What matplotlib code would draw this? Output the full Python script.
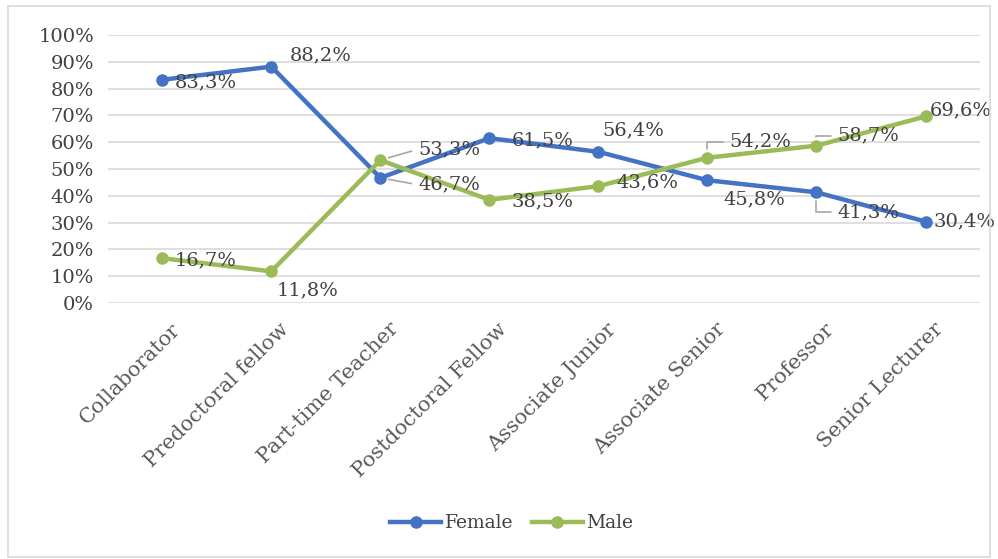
import matplotlib.pyplot as plt
from matplotlib.patches import Rectangle
from matplotlib.ticker import PercentFormatter
from matplotlib.transforms import ScaledTranslation

categories = ['Collaborator', 'Predoctoral fellow', 'Part-time Teacher', 'Postdoctoral Fellow',
              'Associate Junior', 'Associate Senior', 'Professor', 'Senior Lecturer']
female = [83.3, 88.2, 46.7, 61.5, 56.4, 45.8, 41.3, 30.4]
male = [16.7, 11.8, 53.3, 38.5, 43.6, 54.2, 58.7, 69.6]

# label offsets in pixels (dx, dy) and leader line kind
female_off = [(12, -3), (18, 11), (38, -7), (22, -2), (4, 21), (16, -19), (21, -20), (8, 0)]
female_lead = [None, None, 'straight', None, None, None, 'angle', None]
male_off = [(12, -2), (5, -19), (38, 11), (22, -2), (18, 4), (22, 16), (21, 10), (4, 6)]
male_lead = [None, None, 'straight', None, None, 'angle', 'angle', None]

BLUE = '#4472C4'
GREEN = '#9BBB59'
TXT = '#404040'
FONT = 'DejaVu Serif'

plt.rcParams['font.family'] = FONT

fig = plt.figure(figsize=(9.98, 5.59), dpi=100)
ax = fig.add_axes([0.108, 0.458, 0.874, 0.4794])

x = list(range(len(categories)))
ax.plot(x, female, color=BLUE, lw=3.2, marker='o', ms=8, label='Female', zorder=3)
ax.plot(x, male, color=GREEN, lw=3.2, marker='o', ms=8, label='Male', zorder=3)

ax.set_xlim(-0.5, len(categories) - 0.5)
ax.set_ylim(0, 100)
ax.set_yticks(range(0, 101, 10))
ax.yaxis.set_major_formatter(PercentFormatter(decimals=0))
ax.grid(axis='y', color='#D9D9D9', lw=1.2)
ax.set_axisbelow(True)
for s in ax.spines.values():
  s.set_visible(False)
ax.tick_params(length=0, labelsize=14, colors=TXT, pad=4)
ax.tick_params(axis='y', pad=10)
ax.tick_params(axis='x', colors='#595959')
ax.set_xticks(x)
ax.set_xticklabels(categories, rotation=45, ha='right', rotation_mode='anchor', fontsize=15)
shift = ScaledTranslation(0.08, -0.11, fig.dpi_scale_trans)
for lbl in ax.get_xticklabels():
  lbl.set_transform(lbl.get_transform() + shift)


def label_series(vals, offs, leads):
  for i, (v, (dx, dy), lead) in enumerate(zip(vals, offs, leads)):
    txt = f'{v:.1f}'.replace('.', ',') + '%'
    props = None
    if lead == 'straight':
      props = dict(arrowstyle='-', color='#A6A6A6', lw=1.2, shrinkA=3, shrinkB=6, relpos=(0, 0.5))
    elif lead == 'angle':
      props = dict(arrowstyle='-', color='#A6A6A6', lw=1.2, shrinkA=3, shrinkB=6, relpos=(0, 0.5),
                   connectionstyle='angle,angleA=0,angleB=90,rad=0')
    ax.annotate(txt, (i, v), xytext=(dx, dy), textcoords='offset pixels',
                ha='left', va='center', fontsize=14, color=TXT, arrowprops=props, zorder=4)


label_series(female, female_off, female_lead)
label_series(male, male_off, male_lead)

leg = ax.legend(loc='center', bbox_to_anchor=(0.513, 0.064), bbox_transform=fig.transFigure,
                ncol=2, frameon=False, fontsize=13.5, handlelength=2.7, columnspacing=1.0,
                handletextpad=0.2)
for t in leg.get_texts():
  t.set_color(TXT)

fig.patches.append(Rectangle((0.008, 0.004), 0.984, 0.986, transform=fig.transFigure,
                             fill=False, edgecolor='#D9D9D9', lw=1.2))

fig.savefig('out.png', dpi=100)
